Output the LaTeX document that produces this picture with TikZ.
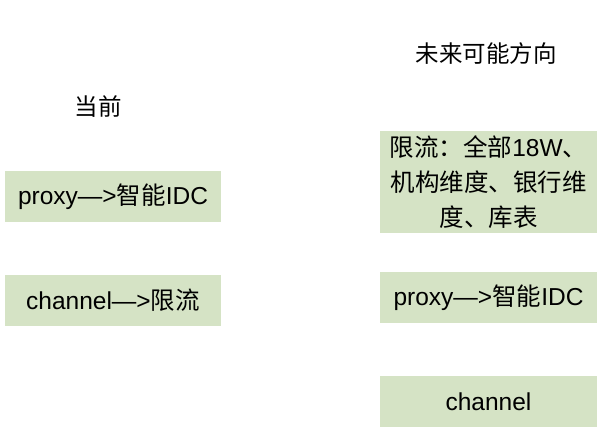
\documentclass[tikz,border=0pt]{standalone}
\usepackage{fontspec}
\setmainfont{Liberation Sans}
\newfontfamily\cjk{Noto Sans CJK SC}
\definecolor{boxgreen}{HTML}{D5E3C5}
\begin{document}
\begin{tikzpicture}[x=1pt,y=-1pt,
  gbox/.style={fill=boxgreen,draw=none,minimum width=216pt,minimum height=51pt,inner sep=0pt,font=\fontsize{24.5}{35}\selectfont,text=black},
  title/.style={font=\cjk\fontsize{23.5}{28}\selectfont,text=black}]
\useasboundingbox (0,0) rectangle (608,442);
\node[title] (tnow) at (98,107) {当前};
\node[title] (tfut) at (486,54) {未来可能方向};
\node[gbox] (b1) at (113,196.5) {proxy—>{\cjk 智能}IDC};
\node[gbox] (b2) at (113,300) {channel—>{\cjk 限流}};
\node[gbox,minimum width=217pt,minimum height=102pt,align=center,text width=210pt] (r1) at (488.5,182) {{\cjk 限流：全部}18W{\cjk 、}\\{\cjk 机构维度、银行维}\\{\cjk 度、库表}};
\node[gbox,minimum width=217pt] (r2) at (488.5,297.5) {proxy—>{\cjk 智能}IDC};
\node[gbox,minimum width=217pt] (r3) at (488.5,401.5) {channel};
\end{tikzpicture}
\end{document}
